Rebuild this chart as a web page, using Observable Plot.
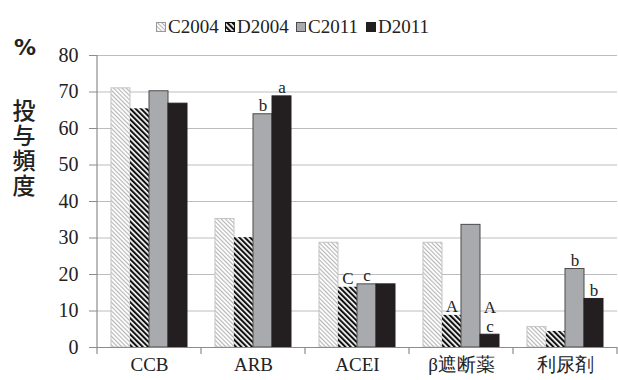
<!DOCTYPE html>
<html><head><meta charset="utf-8">
<script src="https://cdn.jsdelivr.net/npm/d3@7"></script>
<script src="https://cdn.jsdelivr.net/npm/@observablehq/plot@0.6"></script>
<style>
body{margin:0;background:#fff;}
#wrap{position:relative;width:618px;height:380px;overflow:hidden;}
#legend{height:40px;position:relative;font-family:"Liberation Serif",serif;font-size:19px;color:#222;}
#legend .item{position:absolute;top:16px;height:22px;display:flex;align-items:center;white-space:nowrap;}
#legend svg{margin-right:2px;}
#pct{position:absolute;left:14px;top:35px;font-family:"DejaVu Sans",sans-serif;font-weight:bold;font-size:22px;line-height:26px;color:#222;}
#ylab{position:absolute;left:11px;top:99px;width:25px;font-family:"Noto Sans CJK JP",sans-serif;font-weight:500;font-size:23px;line-height:25px;letter-spacing:2px;writing-mode:vertical-rl;text-orientation:upright;color:#222;}
</style></head><body>
<svg width="0" height="0" style="position:absolute">
 <defs>
  <pattern id="pC2004" patternUnits="userSpaceOnUse" width="3" height="3" patternTransform="rotate(-45)">
   <rect width="3" height="3" fill="#fff"/><rect width="1.1" height="3" fill="#b5b5b5"/>
  </pattern>
  <pattern id="pD2004" patternUnits="userSpaceOnUse" width="3.8" height="3.8" patternTransform="rotate(-45)">
   <rect width="3.8" height="3.8" fill="#fff"/><rect width="2.1" height="3.8" fill="#111"/>
  </pattern>
 </defs>
</svg>
<div id="wrap">
 <div id="legend"></div>
 <div id="chart"></div>
 <div id="pct">%</div>
 <div id="ylab">投与頻度</div>
</div>
<script>
const categories = ["CCB", "ARB", "ACEI", "β遮断薬", "利尿剤"];
const series = ["C2004", "D2004", "C2011", "D2011"];
const C2004 = [71.0, 35.2, 28.7, 28.7, 5.6];
const D2004 = [65.4, 30.1, 16.5, 8.8, 4.4];
const C2011 = [70.2, 63.9, 17.3, 33.6, 21.5];
const D2011 = [66.8, 68.8, 17.3, 3.5, 13.3];
const yTicks = [0, 10, 20, 30, 40, 50, 60, 70, 80];
const annotCategory = ["ARB", "ARB", "ACEI", "ACEI", "β遮断薬", "β遮断薬", "利尿剤", "利尿剤"];
const annotSeries = ["C2011", "D2011", "D2004", "C2011", "D2004", "D2011", "C2011", "D2011"];
const annotText = ["b", "a", "C", "c", "A", "A\nc", "b", "b"];

const fills = {C2004: "url(#pC2004)", D2004: "url(#pD2004)", C2011: "#a9aaad", D2011: "#231f20"};
const strokes = {C2004: "#c4c4c4", D2004: "none", C2011: "#4a4a4a", D2011: "#231f20"};
const values = {C2004, D2004, C2011, D2011};

const rows = [];
series.forEach(s => categories.forEach((c, i) => rows.push({category: c, series: s, value: values[s][i]})));
const annots = annotText.map((t, i) => {
  const ci = categories.indexOf(annotCategory[i]);
  return {category: annotCategory[i], series: annotSeries[i], value: values[annotSeries[i]][ci], text: t};
});

// legend
const legend = d3.select("#legend");
const legendLeft = [156, 225, 296, 366];
series.forEach((s, i) => {
  const it = legend.append("div").attr("class", "item").style("left", legendLeft[i] + "px");
  const sw = it.append("svg").attr("width", 10).attr("height", 10);
  sw.append("rect").attr("x", 0.5).attr("y", 0.5).attr("width", 9).attr("height", 9)
    .attr("fill", fills[s]).attr("stroke", s === "C2011" ? "#4a4a4a" : (s === "C2004" ? "#999" : (s === "D2004" ? "#111" : "#231f20")));
  it.append("span").text(s);
});

const chart = Plot.plot({
  width: 618,
  height: 340,
  marginLeft: 96,
  marginRight: 1,
  marginTop: 15,
  marginBottom: 33,
  style: {fontFamily: "Liberation Serif, serif", fontSize: "19px", color: "#222", background: "#fff"},
  fx: {domain: categories, padding: 0, label: null},
  x: {domain: series, paddingInner: 0, paddingOuter: 0.7, axis: null},
  y: {domain: [0, 80], label: null},
  marks: [
    Plot.gridY(yTicks, {stroke: "#bdbdbd", strokeOpacity: 1, strokeWidth: 1.2}),
    Plot.barY(rows, {fx: "category", x: "series", y: "value",
      fill: d => fills[d.series], stroke: d => strokes[d.series], strokeWidth: 1}),
    Plot.ruleY([0], {stroke: "#8c8c8c", strokeWidth: 1.2}),
    Plot.axisY(yTicks, {tickSize: 8, tickPadding: 11, stroke: "#8c8c8c", fontSize: 20, label: null}),
    Plot.axisFx({anchor: "bottom", tickSize: 0, tickPadding: 10, fontSize: 19, label: null}),
    Plot.text(annots, {fx: "category", x: "series", y: "value", text: "text",
      lineAnchor: "bottom", dy: -3, fontSize: 17, fill: "#222", lineHeight: 1.12})
  ]
});
document.getElementById("chart").appendChild(chart);

// y-axis line and category boundary ticks, derived from the plot's scales
const svg = d3.select(chart);
const fx = chart.scale("fx");
const y = chart.scale("y");
const y0 = y.apply(0), y80 = y.apply(80);
const left = fx.apply(categories[0]);
const g = svg.append("g").attr("stroke", "#8c8c8c").attr("stroke-width", 1.2);
g.append("line").attr("x1", left).attr("x2", left).attr("y1", y80).attr("y2", y0);
const bounds = categories.map(c => fx.apply(c)).concat([fx.apply(categories[categories.length - 1]) + fx.bandwidth]);
bounds.forEach(b => g.append("line").attr("x1", b).attr("x2", b).attr("y1", y0).attr("y2", y0 + 7));
</script>
</body></html>
